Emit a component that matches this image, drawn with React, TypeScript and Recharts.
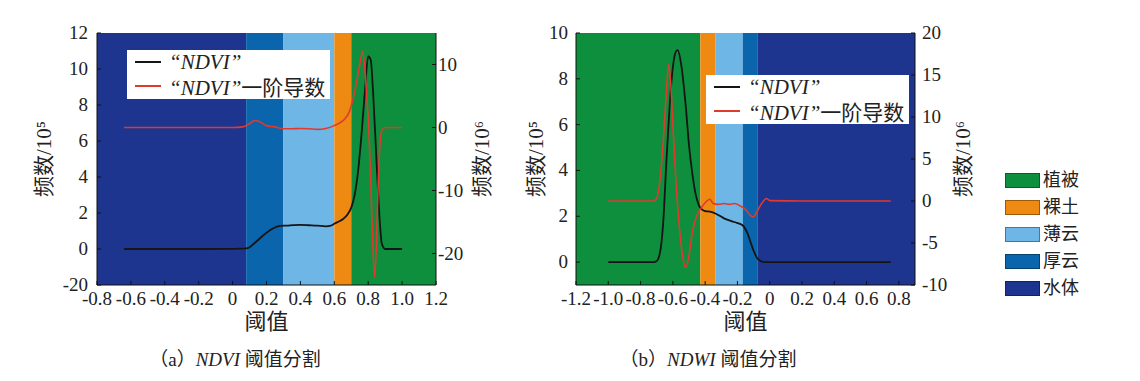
import React from 'react';
import { ComposedChart, Line, XAxis, YAxis, ReferenceArea, Label } from 'recharts';

// land-cover classes shown as background bands
const classNames = ['植被', '裸土', '薄云', '厚云', '水体'];
const classColors = ['#0e8f3e', '#ee8a12', '#6db6e6', '#0b65ad', '#1e3590'];

// (a) NDVI
const ndviBreaks = [-0.8, 0.08, 0.3, 0.6, 0.7, 1.2];
const ndviBandClasses = ['水体', '厚云', '薄云', '裸土', '植被'];
const ndviXTicks = [-0.8, -0.6, -0.4, -0.2, 0, 0.2, 0.4, 0.6, 0.8, 1.0, 1.2];
const ndviLeftTicks = [-2, 0, 2, 4, 6, 8, 10, 12];
const ndviLeftTickLabels = ['-20', '0', '2', '4', '6', '8', '10', '12'];
const ndviRightTicks = [-20, -10, 0, 10];
const ndviFreqX = [-0.64, -0.4, -0.2, 0, 0.05, 0.08, 0.1, 0.12, 0.15, 0.18, 0.2, 0.24, 0.28, 0.32, 0.36, 0.4, 0.45, 0.5, 0.55, 0.58, 0.6, 0.62, 0.65, 0.68, 0.7, 0.72, 0.74, 0.76, 0.78, 0.8, 0.815, 0.83, 0.85, 0.87, 0.88, 0.9, 0.95, 1.0];
const ndviFreq = [0, 0, 0, 0.01, 0.02, 0.03, 0.1, 0.25, 0.5, 0.75, 0.9, 1.15, 1.28, 1.3, 1.33, 1.34, 1.32, 1.3, 1.26, 1.3, 1.4, 1.5, 1.65, 1.95, 2.3, 3.0, 4.3, 6.3, 8.7, 10.7, 10.5, 8.5, 4.7, 1.3, 0.3, 0, 0, 0];
const ndviDerivX = [-0.64, -0.2, 0, 0.06, 0.1, 0.13, 0.16, 0.2, 0.25, 0.3, 0.35, 0.4, 0.45, 0.5, 0.55, 0.6, 0.63, 0.66, 0.69, 0.71, 0.73, 0.75, 0.767, 0.78, 0.79, 0.8, 0.815, 0.825, 0.838, 0.85, 0.86, 0.87, 0.88, 0.9, 0.95, 1.0];
const ndviDeriv = [0, 0, 0, 0.1, 0.6, 1.1, 0.9, 0.3, 0.1, -0.2, -0.2, -0.15, -0.2, -0.3, -0.15, 0.3, 0.7, 1.3, 2.6, 4.5, 7, 10, 12.1, 9.5, 5.5, 1.5, -8.5, -17, -23.8, -17, -8, -2.5, -0.5, 0, 0, 0];

// (b) NDWI
const ndwiBreaks = [-1.2, -0.43, -0.335, -0.167, -0.077, 0.9];
const ndwiBandClasses = ['植被', '裸土', '薄云', '厚云', '水体'];
const ndwiXTicks = [-1.2, -1.0, -0.8, -0.6, -0.4, -0.2, 0, 0.2, 0.4, 0.6, 0.8];
const ndwiLeftTicks = [0, 2, 4, 6, 8, 10];
const ndwiLeftTickLabels = ['0', '2', '4', '6', '8', '10'];
const ndwiRightTicks = [-10, -5, 0, 5, 10, 15, 20];
const ndwiFreqX = [-1.0, -0.8, -0.72, -0.7, -0.68, -0.66, -0.64, -0.62, -0.6, -0.58, -0.57, -0.55, -0.52, -0.5, -0.48, -0.46, -0.44, -0.42, -0.4, -0.37, -0.33, -0.28, -0.22, -0.17, -0.14, -0.12, -0.1, -0.08, -0.06, -0.03, 0.2, 0.5, 0.75];
const ndwiFreq = [0, 0, 0, 0.05, 0.4, 1.7, 4.4, 6.8, 8.5, 9.2, 9.25, 8.7, 6.8, 5.1, 3.9, 3.0, 2.5, 2.3, 2.22, 2.2, 2.1, 1.9, 1.75, 1.62, 1.3, 0.9, 0.5, 0.2, 0.06, 0, 0, 0, 0];
const ndwiDerivX = [-1.0, -0.8, -0.72, -0.7, -0.68, -0.66, -0.64, -0.625, -0.61, -0.6, -0.58, -0.56, -0.54, -0.52, -0.5, -0.48, -0.46, -0.44, -0.42, -0.4, -0.37, -0.35, -0.32, -0.28, -0.25, -0.22, -0.19, -0.15, -0.12, -0.1, -0.08, -0.05, -0.02, 0, 0.2, 0.5, 0.75];
const ndwiDeriv = [0, 0, 0, 0.3, 2.5, 7, 13, 16.3, 13, 9, 2, -3, -6.5, -7.9, -6.5, -3.8, -2.2, -1.3, -0.7, -0.2, 0.2, -0.3, -0.4, -0.3, -0.4, -0.3, -0.5, -1.0, -1.7, -1.9, -1.3, -0.3, 0.3, 0.05, 0, 0, 0];

const serif = '"Liberation Serif", "Noto Sans CJK SC", serif';
const FREQ_COLOR = '#151515';
const DERIV_COLOR = '#e03a2e';

type Row = { x: number; freq?: number; deriv?: number };

function mergeSeries(fx: number[], fy: number[], dx: number[], dy: number[]): Row[] {
  const map = new Map<number, Row>();
  fx.forEach((x, i) => {
    const r = map.get(x) ?? { x };
    r.freq = fy[i];
    map.set(x, r);
  });
  dx.forEach((x, i) => {
    const r = map.get(x) ?? { x };
    r.deriv = dy[i];
    map.set(x, r);
  });
  return [...map.values()].sort((a, b) => a.x - b.x);
}

const fmtX = (v: number) => (v === 0 ? '0' : v.toFixed(1));

// plain serif tick text; side decides anchor
function SerifTick(props: any) {
  const { x, y, payload, side, formatter } = props;
  const label = formatter ? formatter(payload.value) : String(payload.value);
  const anchor = side === 'bottom' ? 'middle' : side === 'left' ? 'end' : 'start';
  const dy = side === 'bottom' ? 13 : 6;
  return (
    <text
      x={x}
      y={y}
      dy={dy}
      textAnchor={anchor}
      fill="#222"
      fontSize={19}
      style={{ fontFamily: '"Liberation Serif", serif' }}
    >
      {label}
    </text>
  );
}

interface PanelProps {
  left: number;
  width: number;
  marginLeft: number;
  leftWidth: number;
  rightWidth: number;
  data: Row[];
  breaks: number[];
  bandClasses: string[];
  xTicks: number[];
  leftDomain: [number, number];
  leftTicks: number[];
  leftTickLabels: string[];
  rightDomain: [number, number];
  rightTicks: number[];
  leftMargin: number;
  rightMargin: number;
}

function Panel(p: PanelProps) {
  const bands = p.bandClasses.map((c, i) => ({
    x1: p.breaks[i],
    x2: p.breaks[i + 1],
    color: classColors[classNames.indexOf(c)],
  }));
  const leftFmt = (v: number) => p.leftTickLabels[p.leftTicks.indexOf(v)] ?? String(v);
  return (
    <div style={{ position: 'absolute', left: p.left, top: 0 }}>
      <ComposedChart
        width={p.width}
        height={340}
        data={p.data}
        margin={{ top: 33, right: 0, bottom: 35, left: p.marginLeft }}
      >
        {bands.map((b) => (
          <ReferenceArea
            key={b.x1}
            yAxisId="left"
            x1={b.x1}
            x2={b.x2}
            fill={b.color}
            fillOpacity={1}
            stroke="none"
          />
        ))}
        <XAxis
          type="number"
          dataKey="x"
          domain={[p.breaks[0], p.breaks[p.breaks.length - 1]]}
          ticks={p.xTicks}
          interval={0}
          height={20}
          tickSize={-4}
          tickMargin={11}
          tick={<SerifTick side="bottom" formatter={fmtX} />}
          axisLine={{ stroke: '#111' }}
          tickLine={{ stroke: '#111' }}
          allowDataOverflow
        >
          <Label value="阈值" position="bottom" offset={8} style={{ fontSize: 22, fontFamily: serif, fill: '#222' }} />
        </XAxis>
        <YAxis
          yAxisId="left"
          orientation="left"
          domain={p.leftDomain}
          ticks={p.leftTicks}
          interval={0}
          width={p.leftWidth}
          tickSize={-4}
          tickMargin={p.leftMargin}
          tick={<SerifTick side="left" formatter={leftFmt} />}
          axisLine={{ stroke: '#111' }}
          tickLine={{ stroke: '#111' }}
          allowDataOverflow
        >
          <Label value="频数/10⁵" angle={-90} position="center" style={{ fontSize: 21, fontFamily: serif, fill: '#222' }} />
        </YAxis>
        <YAxis
          yAxisId="right"
          orientation="right"
          domain={p.rightDomain}
          ticks={p.rightTicks}
          interval={0}
          width={p.rightWidth}
          tickSize={-4}
          tickMargin={p.rightMargin}
          tick={<SerifTick side="right" />}
          axisLine={{ stroke: '#111' }}
          tickLine={{ stroke: '#111' }}
          allowDataOverflow
        >
          <Label value="频数/10⁶" angle={-90} position="center" style={{ fontSize: 21, fontFamily: serif, fill: '#222' }} />
        </YAxis>
        <Line
          yAxisId="left"
          dataKey="freq"
          type="monotone"
          stroke={FREQ_COLOR}
          strokeWidth={1.8}
          dot={false}
          connectNulls
          isAnimationActive={false}
        />
        <Line
          yAxisId="right"
          dataKey="deriv"
          type="monotone"
          stroke={DERIV_COLOR}
          strokeWidth={1.6}
          dot={false}
          connectNulls
          isAnimationActive={false}
        />
      </ComposedChart>
    </div>
  );
}

function SeriesLegend({ left, top }: { left: number; top: number }) {
  const row = (color: string, suffix: string, y: number) => (
    <div style={{ position: 'absolute', left: 0, top: y, height: 24, display: 'flex', alignItems: 'center' }}>
      <div style={{ width: 26, height: 0, borderTop: `2px solid ${color}`, marginLeft: 8, marginRight: 8 }} />
      <span style={{ fontFamily: serif, fontSize: 21, color: '#222', whiteSpace: 'nowrap' }}>
        <i>“NDVI”</i>
        {suffix}
      </span>
    </div>
  );
  return (
    <div style={{ position: 'absolute', left, top, width: 203, height: 49, background: '#fff' }}>
      {row(FREQ_COLOR, '', 0)}
      {row(DERIV_COLOR, '一阶导数', 24)}
    </div>
  );
}

function ClassLegend() {
  return (
    <div style={{ position: 'absolute', left: 1005, top: 173 }}>
      {classNames.map((n, i) => (
        <div key={n} style={{ display: 'flex', alignItems: 'center', height: 14, marginBottom: 13 }}>
          <div
            style={{
              width: 33,
              height: 13,
              background: classColors[i],
              border: '1px solid rgba(0,0,0,0.35)',
              marginRight: 3,
            }}
          />
          <span style={{ fontFamily: serif, fontSize: 18, color: '#222', lineHeight: '14px' }}>{n}</span>
        </div>
      ))}
    </div>
  );
}

function Caption({ center, tag, name }: { center: number; tag: string; name: string }) {
  return (
    <div
      style={{
        position: 'absolute',
        left: center - 150,
        width: 300,
        top: 344,
        textAlign: 'center',
        fontFamily: serif,
        fontSize: 19,
        color: '#222',
      }}
    >
      （{tag}）<i>{name}</i> 阈值分割
    </div>
  );
}

export default function App() {
  const ndviData = mergeSeries(ndviFreqX, ndviFreq, ndviDerivX, ndviDeriv);
  const ndwiData = mergeSeries(ndwiFreqX, ndwiFreq, ndwiDerivX, ndwiDeriv);
  return (
    <div
      style={{
        position: 'absolute',
        left: 0,
        top: 0,
        width: 1140,
        height: 381,
        background: '#fff',
        overflow: 'hidden',
      }}
    >
      <Panel
        left={-20}
        width={548}
        marginLeft={11}
        leftWidth={106}
        rightWidth={92}
        data={ndviData}
        breaks={ndviBreaks}
        bandClasses={ndviBandClasses}
        xTicks={ndviXTicks}
        leftDomain={[-2, 12]}
        leftTicks={ndviLeftTicks}
        leftTickLabels={ndviLeftTickLabels}
        rightDomain={[-25, 15]}
        rightTicks={ndviRightTicks}
        leftMargin={13}
        rightMargin={6}
      />
      <Panel
        left={490}
        width={521}
        marginLeft={6}
        leftWidth={80}
        rightWidth={96}
        data={ndwiData}
        breaks={ndwiBreaks}
        bandClasses={ndwiBandClasses}
        xTicks={ndwiXTicks}
        leftDomain={[-1, 10]}
        leftTicks={ndwiLeftTicks}
        leftTickLabels={ndwiLeftTickLabels}
        rightDomain={[-10, 20]}
        rightTicks={ndwiRightTicks}
        leftMargin={12}
        rightMargin={11}
      />
      <SeriesLegend left={127} top={50} />
      <SeriesLegend left={706} top={75} />
      <ClassLegend />
      <Caption center={235} tag="a" name="NDVI" />
      <Caption center={708} tag="b" name="NDWI" />
    </div>
  );
}
